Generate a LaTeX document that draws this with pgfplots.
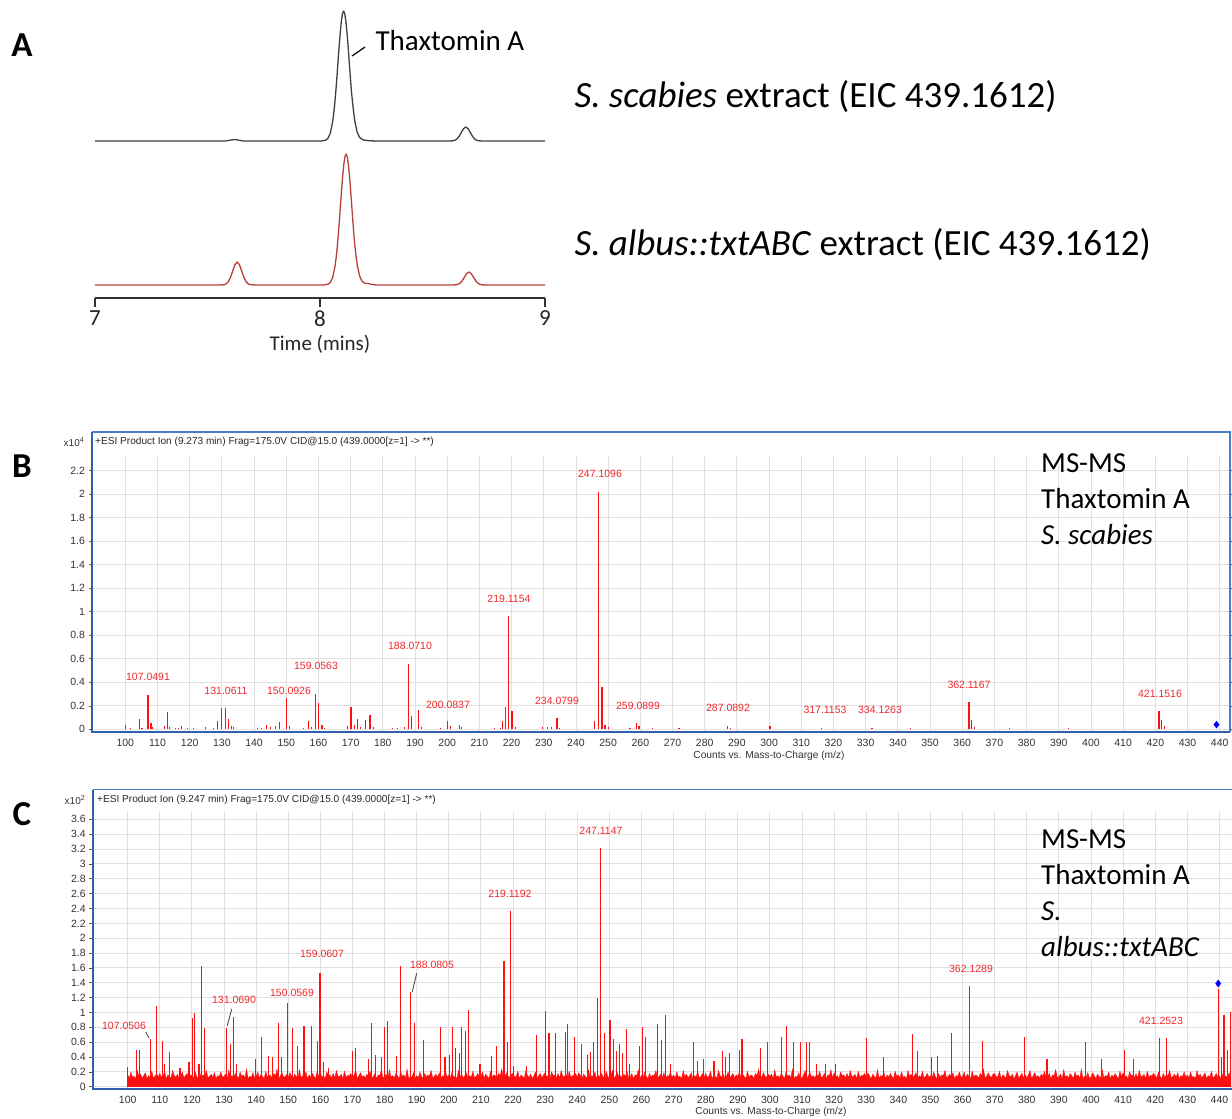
\documentclass[border=0pt]{standalone}
\usepackage{fontspec}
\usepackage{pgfplots}
\pgfplotsset{compat=1.18}
\setmainfont{Carlito}
\newfontfamily\arial{Liberation Sans}
\newcommand\fs[2]{\fontsize{#1}{#2}\selectfont}
\definecolor{chromblack}{HTML}{3F3F3F}
\definecolor{chromred}{HTML}{B8403C}
\definecolor{msred}{HTML}{FF1010}
\definecolor{lblred}{HTML}{F0282D}
\definecolor{frameblue}{HTML}{4A7CC8}
\definecolor{framedark}{HTML}{2F5FAF}
\definecolor{gridgray}{HTML}{E0E0E0}
\pgfplotsset{msaxis/.style={scale only axis, anchor=south west, axis line style={draw=none},
  grid=major, major grid style={draw=gridgray, line width=0.9pt},
  tick align=outside, major tick length=3.5pt, x tick style={draw=none},
  y tick style={draw=black!65, line width=0.6pt},
  tick label style={font=\arial\fs{10.5}{11}, text=black!80},
  /pgf/number format/assume math mode=true,
  xtick={100,110,...,440}}}
\begin{document}
\begin{tikzpicture}
\useasboundingbox (0pt,0pt) rectangle (1232pt,-1119pt);
% ---------------- Panel A ----------------
\begin{axis}[at={(95pt,-298pt)}, anchor=south west, scale only axis, width=450pt, height=293pt,
  xmin=7, xmax=9, ymin=-13, ymax=280, axis x line*=bottom, axis y line=none, ytick=\empty,
  xtick={7,8,9}, tick align=outside, major tick length=9pt,
  every tick/.style={black!80, line width=1.1pt}, axis line style={black!80, line width=1.1pt},
  xticklabel style={font=\fs{23}{23}, text=black!85},
  /pgf/number format/assume math mode=true, clip=false]
\addplot[chromblack, line width=1.3pt, line join=round] coordinates {
(7.000,144) (7.580,144) (7.600,144.8) (7.620,145.5) (7.640,144.8) (7.660,144) (8.005,144)
(8.025,144.8) (8.035,146.6) (8.045,151.3) (8.055,161.6) (8.060,169.7) (8.065,180.1) (8.070,192.8)
(8.075,207.3) (8.080,222.9) (8.085,238.4) (8.090,252.6) (8.095,264.0) (8.100,271.4) (8.105,274.0)
(8.110,271.4) (8.115,264.0) (8.120,252.6) (8.125,238.4) (8.130,222.9) (8.135,207.3) (8.140,193.0)
(8.145,182.0) (8.150,172.0) (8.155,163.5) (8.165,153.0) (8.175,148.0) (8.185,146.0) (8.195,145.0)
(8.215,144.3) (8.250,144) (8.570,144) (8.588,144.15) (8.598,144.6) (8.608,145.9) (8.618,148.55)
(8.628,152.5) (8.638,156.35) (8.648,158.0) (8.658,156.35) (8.668,152.5) (8.678,148.55) (8.688,145.9)
(8.698,144.6) (8.708,144.15) (8.730,144) (9.000,144)};
\addplot[chromred, line width=1.3pt, line join=round] coordinates {
(7.000,0) (7.550,0) (7.572,0.25) (7.582,1.0) (7.592,3.1) (7.602,7.5) (7.612,14.0) (7.622,20.3)
(7.632,23.0) (7.642,20.3) (7.652,14.0) (7.662,7.5) (7.672,3.1) (7.682,1.0) (7.692,0.25) (7.720,0)
(8.016,0) (8.036,0.8) (8.046,2.6) (8.056,7.3) (8.066,17.7) (8.071,25.9) (8.076,36.4) (8.081,49.1)
(8.086,63.8) (8.091,79.5) (8.096,95.1) (8.101,109.4) (8.106,120.9) (8.111,128.4) (8.116,131.0)
(8.121,128.4) (8.126,120.9) (8.131,109.4) (8.136,95.1) (8.141,79.5) (8.146,63.8) (8.151,49.5)
(8.156,37.5) (8.161,27.5) (8.166,19.5) (8.176,9.0) (8.186,4.0) (8.196,2.2) (8.206,1.6) (8.216,1.4)
(8.226,0.8) (8.250,0) (8.580,0) (8.602,0.15) (8.612,0.55) (8.622,1.75) (8.632,4.2) (8.642,7.9)
(8.652,11.5) (8.662,13.0) (8.672,11.5) (8.682,7.9) (8.692,4.2) (8.702,1.75) (8.712,0.55) (8.722,0.15)
(8.750,0) (9.000,0)};
\end{axis}
\node[font=\bfseries\fs{35}{35}] at (22pt,-45pt) {A};
\node[font=\fs{29}{29}, anchor=west] at (372pt,-41pt) {Thaxtomin A};
\draw[black, line width=1.2pt] (352pt,-56pt) -- (365pt,-47pt);
\node[font=\fs{21}{21}, text=black!85] at (320pt,-344pt) {Time (mins)};
\node[font=\fs{37}{37}, anchor=west] at (571pt,-97pt) {\textit{S. scabies} extract (EIC 439.1612)};
\node[font=\fs{37}{37}, anchor=west] at (571pt,-245pt) {\textit{S. albus::txtABC} extract (EIC 439.1612)};
% ---------------- Panel B ----------------
\begin{axis}[msaxis, at={(92pt,-732pt)}, width=1138pt, height=276.5pt,
  xmin=89.65, xmax=443.2, ymin=-0.023, ymax=2.33,
  ytick={0,0.2,0.4,0.6,0.8,1,1.2,1.4,1.6,1.8,2,2.2},
  yticklabels={0,0.2,0.4,0.6,0.8,1,1.2,1.4,1.6,1.8,2,2.2}]
\addplot[ycomb, draw=msred, line width=1.2pt] coordinates {
(100.0,0.04) (101.7,0.01) (104.4,0.085) (105.2,0.01) (107.05,0.29) (108.0,0.05) (108.5,0.02)
(112.1,0.03) (113.0,0.145) (113.7,0.02) (115.5,0.01) (116.4,0.015) (117.4,0.025) (119.3,0.015)
(121.2,0.01) (125.0,0.02) (127.3,0.01) (128.6,0.07) (129.9,0.18) (131.06,0.18) (132.0,0.09)
(133.0,0.03) (133.6,0.02) (141.0,0.01) (142.4,0.01) (143.9,0.035) (145.0,0.02) (146.6,0.03)
(147.9,0.06) (150.09,0.27) (151.1,0.03) (155.4,0.01) (156.9,0.07) (157.8,0.02) (159.06,0.30)
(160.0,0.22) (161.1,0.04) (162.0,0.01) (169.0,0.03) (170.1,0.19) (171.2,0.04) (172.1,0.09)
(173.0,0.02) (174.7,0.08) (176.0,0.12) (177.1,0.02) (183.0,0.01) (184.5,0.01) (186.8,0.02)
(188.07,0.56) (189.0,0.11) (191.1,0.165) (191.9,0.02) (198.0,0.01) (200.08,0.07) (201.0,0.03)
(203.7,0.035) (204.5,0.02) (214.8,0.015) (216.5,0.01) (217.3,0.07) (218.1,0.19) (219.12,0.96)
(220.1,0.16) (221.1,0.02) (229.6,0.02) (231.1,0.02) (232.4,0.02) (234.08,0.095) (234.9,0.01)
(245.8,0.07) (247.11,2.02) (248.1,0.36) (249.0,0.04) (250.0,0.02) (256.8,0.01) (258.8,0.05)
(259.6,0.025) (263.7,0.01) (272.0,0.01) (287.09,0.03) (288.0,0.015) (300.3,0.03) (316.3,0.015)
(332.0,0.01) (343.9,0.01) (362.12,0.23) (362.9,0.08) (363.9,0.02) (374.6,0.01) (393.1,0.01)
(421.15,0.16) (421.9,0.08) (422.9,0.03)};
\addplot[only marks, mark=diamond*, mark size=3.5pt, color=blue] coordinates {(439,0.04)};
\end{axis}
\draw[frameblue, line width=1.5pt] (92pt,-432pt) -- (1230pt,-432pt) -- (1230pt,-732pt);
\draw[framedark, line width=2pt] (92pt,-432pt) -- (92pt,-732pt) -- (1230pt,-732pt);
\node[font=\bfseries\fs{35}{35}] at (22pt,-466pt) {B};
\node[font=\arial\fs{10}{10}, text=black!80] at (74pt,-442pt) {x10\textsuperscript{4}};
\node[font=\arial\fs{10.1}{11}, text=black!85, anchor=west, inner sep=0pt] at (95pt,-442pt) {+ESI Product Ion (9.273 min) Frag=175.0V CID@15.0 (439.0000[z=1] -> **)};
\node[font=\arial\fs{10.2}{11}, text=black!80] at (769pt,-756pt) {Counts vs. Mass-to-Charge (m/z)};
\begin{scope}[every node/.style={font=\arial\fs{10.5}{11}, text=lblred, inner sep=0pt}]
\node at (148pt,-677pt) {107.0491};
\node at (226pt,-691pt) {131.0611};
\node at (289pt,-691pt) {150.0926};
\node at (316pt,-666pt) {159.0563};
\node at (410pt,-646pt) {188.0710};
\node at (448pt,-705pt) {200.0837};
\node at (509pt,-599pt) {219.1154};
\node at (557pt,-701pt) {234.0799};
\node at (600pt,-474pt) {247.1096};
\node at (638pt,-706pt) {259.0899};
\node at (728pt,-708pt) {287.0892};
\node at (825pt,-710pt) {317.1153};
\node at (880pt,-710pt) {334.1263};
\node at (969pt,-685pt) {362.1167};
\node at (1160pt,-694pt) {421.1516};
\end{scope}
\node[font=\fs{29}{36}, anchor=north west, align=left, inner sep=0pt] at (1041pt,-453pt) {MS-MS\\Thaxtomin A\\\textit{S. scabies}};
% ---------------- Panel C ----------------
\begin{axis}[msaxis, at={(92.7pt,-1089pt)}, width=1142.8pt, height=277.1pt,
  xmin=89.1, xmax=445, ymin=-3, ymax=370,
  ytick={0,20,...,360},
  yticklabels={0,0.2,0.4,0.6,0.8,1,1.2,1.4,1.6,1.8,2,2.2,2.4,2.6,2.8,3,3.2,3.4,3.6}]
\addplot[draw=msred, fill=msred, line width=0.3pt] table[row sep=\\, x expr=100+0.5*\coordindex, y index=0] {n\\
16\\12\\20\\13\\14\\11\\22\\14\\17\\12\\15\\19\\11\\15\\13\\21\\12\\14\\18\\13\\
18\\13\\14\\21\\11\\16\\14\\12\\22\\15\\13\\17\\11\\15\\20\\12\\15\\18\\12\\16\\
15\\12\\20\\14\\11\\18\\13\\16\\15\\22\\12\\14\\17\\13\\19\\11\\15\\14\\20\\13\\
14\\17\\11\\23\\13\\15\\12\\18\\15\\11\\20\\14\\16\\12\\24\\11\\14\\13\\19\\12\\
14\\20\\12\\17\\14\\11\\21\\13\\16\\15\\12\\18\\15\\24\\12\\14\\19\\14\\13\\17\\
13\\19\\15\\11\\17\\14\\12\\23\\12\\15\\14\\20\\11\\16\\13\\18\\14\\11\\21\\14\\
19\\13\\15\\11\\20\\15\\16\\12\\18\\12\\22\\14\\14\\17\\11\\21\\13\\15\\15\\18\\
12\\16\\22\\11\\15\\19\\13\\15\\12\\17\\14\\21\\12\\14\\18\\11\\16\\15\\23\\12\\
14\\17\\11\\23\\13\\15\\12\\18\\15\\11\\20\\14\\16\\12\\24\\11\\14\\13\\19\\12\\
15\\12\\20\\14\\11\\18\\13\\16\\15\\22\\12\\14\\17\\13\\19\\11\\15\\14\\20\\13\\
16\\12\\20\\13\\14\\11\\22\\14\\17\\12\\15\\19\\11\\15\\13\\21\\12\\14\\18\\13\\
14\\20\\12\\17\\14\\11\\21\\13\\16\\15\\12\\18\\15\\24\\12\\14\\19\\14\\13\\17\\
18\\13\\14\\21\\11\\16\\14\\12\\22\\15\\13\\17\\11\\15\\20\\12\\15\\18\\12\\16\\
19\\13\\15\\11\\20\\15\\16\\12\\18\\12\\22\\14\\14\\17\\11\\21\\13\\15\\15\\18\\
13\\19\\15\\11\\17\\14\\12\\23\\12\\15\\14\\20\\11\\16\\13\\18\\14\\11\\21\\14\\
12\\16\\22\\11\\15\\19\\13\\15\\12\\17\\14\\21\\12\\14\\18\\11\\16\\15\\23\\12\\
15\\12\\20\\14\\11\\18\\13\\16\\15\\22\\12\\14\\17\\13\\19\\11\\15\\14\\20\\13\\
16\\12\\20\\13\\14\\11\\22\\14\\17\\12\\15\\19\\11\\15\\13\\21\\12\\14\\18\\13\\
18\\13\\14\\21\\11\\16\\14\\12\\22\\15\\13\\17\\11\\15\\20\\12\\15\\18\\12\\16\\
14\\20\\12\\17\\14\\11\\21\\13\\16\\15\\12\\18\\15\\24\\12\\14\\19\\14\\13\\17\\
14\\17\\11\\23\\13\\15\\12\\18\\15\\11\\20\\14\\16\\12\\24\\11\\14\\13\\19\\12\\
12\\16\\22\\11\\15\\19\\13\\15\\12\\17\\14\\21\\12\\14\\18\\11\\16\\15\\23\\12\\
19\\13\\15\\11\\20\\15\\16\\12\\18\\12\\22\\14\\14\\17\\11\\21\\13\\15\\15\\18\\
13\\19\\15\\11\\17\\14\\12\\23\\12\\15\\14\\20\\11\\16\\13\\18\\14\\11\\21\\14\\
16\\12\\20\\13\\14\\11\\22\\14\\17\\12\\15\\19\\11\\15\\13\\21\\12\\14\\18\\13\\
15\\12\\20\\14\\11\\18\\13\\16\\15\\22\\12\\14\\17\\13\\19\\11\\15\\14\\20\\13\\
14\\20\\12\\17\\14\\11\\21\\13\\16\\15\\12\\18\\15\\24\\12\\14\\19\\14\\13\\17\\
18\\13\\14\\21\\11\\16\\14\\12\\22\\15\\13\\17\\11\\15\\20\\12\\15\\18\\12\\16\\
12\\16\\22\\11\\15\\19\\13\\15\\12\\17\\14\\21\\12\\14\\18\\11\\16\\15\\23\\12\\
14\\17\\11\\23\\13\\15\\12\\18\\15\\11\\20\\14\\16\\12\\24\\11\\14\\13\\19\\12\\
13\\19\\15\\11\\17\\14\\12\\23\\12\\15\\14\\20\\11\\16\\13\\18\\14\\11\\21\\14\\
19\\13\\15\\11\\20\\15\\16\\12\\18\\12\\22\\14\\14\\17\\11\\21\\13\\15\\15\\18\\
15\\12\\20\\14\\11\\18\\13\\16\\15\\22\\12\\14\\17\\13\\19\\11\\15\\14\\20\\13\\
16\\12\\20\\13\\14\\11\\22\\14\\17\\12\\15\\19\\11\\15\\13\\21\\12\\14\\18\\13\\
15\\10\\17\\12\\15\\11\\19\\13\\
} \closedcycle;
\addplot[ycomb, draw=msred, line width=1.1pt] coordinates {
(100.0,27) (102.8,49) (103.8,49) (107.1,64) (108.9,109) (110.9,61) (111.6,30) (112.9,47) (116.3,25)
(119.1,34) (120.1,92) (120.9,99) (122.2,30) (122.9,162) (123.9,79) (130.8,79) (131.9,58) (133.0,94)
(133.9,30) (139.9,37) (141.8,67) (143.9,42) (145.0,40) (146.9,86) (147.9,40) (149.9,113) (151.2,79)
(153.0,55) (154.9,82) (157.2,82) (159.2,61) (159.9,153) (161.1,33) (162.5,25) (170.1,48) (170.9,52)
(174.9,38) (175.9,86) (177.3,43) (179.1,40) (180.1,81) (180.9,88) (183.8,42) (185.0,162) (188.1,128)
(189.2,86) (192.1,63) (197.3,81) (198.8,40) (200.2,43) (201.2,80) (202.0,52) (203.2,46) (204.0,81)
(205.1,75) (206.2,104) (209.7,30) (213.2,42) (214.9,55) (217.2,169) (218.2,60) (219.2,236) (220.1,28)
(224.2,28) (227.2,70) (230.0,102) (231.2,72) (233.2,72) (236.2,74) (237.1,85) (239.2,67) (241.2,58)
(243.2,43) (244.1,47) (245.0,60) (246.3,120) (247.2,321) (248.5,72) (250.2,90) (251.2,64) (252.3,48)
(253.2,57) (254.1,45) (255.3,78) (256.4,30) (259.5,55) (260.3,81) (261.3,67) (265.1,85) (266.3,63)
(267.4,97) (268.9,30) (276.2,60) (277.5,35) (279.2,37) (282.6,35) (285.2,48) (286.3,40) (287.4,45)
(290.4,50) (291.3,64) (297.1,52) (299.2,60) (303.5,67) (305.2,82) (307.3,60) (309.4,60) (311.4,60)
(312.3,60) (314.6,30) (317.3,30) (320.5,30) (330.1,66) (335.3,40) (344.4,71) (346.0,48) (350.3,40)
(352.3,42) (356.6,72) (362.2,135) (366.3,62) (379.3,67) (386.3,38) (398.3,60) (403.3,38) (410.3,50)
(413.1,38) (421.3,65) (423.4,65) (439.6,131) (440.5,40) (441.4,96) (442.4,50) (443.3,100)};
\addplot[only marks, mark=diamond*, mark size=3.5pt, color=blue] coordinates {(439.6,139)};
\end{axis}
\draw[frameblue, line width=1.5pt] (92.7pt,-789.7pt) -- (1250pt,-789.7pt);
\draw[framedark, line width=2pt] (1250pt,-1089pt) -- (92.7pt,-1089pt) -- (92.7pt,-789.7pt);
\node[font=\bfseries\fs{35}{35}] at (22pt,-814pt) {C};
\node[font=\arial\fs{10}{10}, text=black!80] at (75pt,-800pt) {x10\textsuperscript{2}};
\node[font=\arial\fs{10.1}{11}, text=black!85, anchor=west, inner sep=0pt] at (97pt,-800pt) {+ESI Product Ion (9.247 min) Frag=175.0V CID@15.0 (439.0000[z=1] -> **)};
\node[font=\arial\fs{10.2}{11}, text=black!80] at (771pt,-1112pt) {Counts vs. Mass-to-Charge (m/z)};
\begin{scope}[every node/.style={font=\arial\fs{10.5}{11}, text=lblred, inner sep=0pt}]
\node at (124pt,-1026pt) {107.0506};
\node at (234pt,-1000pt) {131.0690};
\node at (292pt,-993pt) {150.0569};
\node at (322pt,-954pt) {159.0607};
\node at (432pt,-965pt) {188.0805};
\node at (510pt,-894pt) {219.1192};
\node at (601pt,-831pt) {247.1147};
\node at (971pt,-969pt) {362.1289};
\node at (1161pt,-1021pt) {421.2523};
\end{scope}
\draw[black!70, line width=0.9pt] (145.7pt,-1032pt) -- (149pt,-1038pt);
\draw[black!70, line width=0.9pt] (231.7pt,-1009pt) -- (227.3pt,-1025.7pt);
\draw[black!70, line width=0.9pt] (416.7pt,-973.3pt) -- (412.3pt,-991.7pt);
\node[font=\fs{29}{36}, anchor=north west, align=left, inner sep=0pt] at (1041pt,-829pt) {MS-MS\\Thaxtomin A\\\textit{S.}\\\textit{albus::txtABC}};
\end{tikzpicture}
\end{document}
